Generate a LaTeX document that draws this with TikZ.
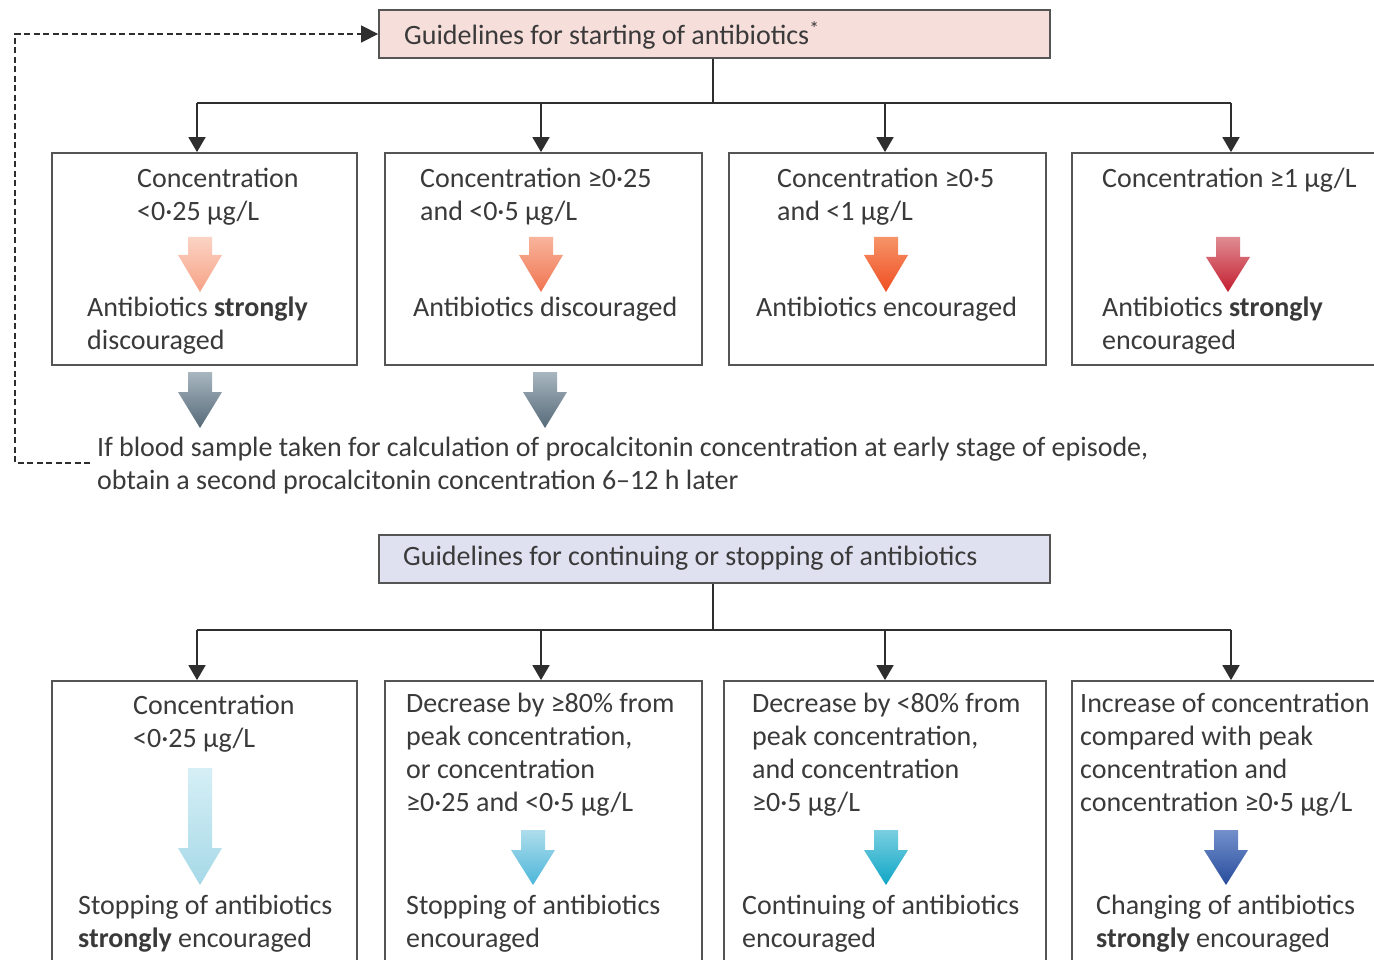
\documentclass[tikz,border=0pt]{standalone}
\usepackage{fontspec}
\setmainfont{Carlito}
\usetikzlibrary{arrows.meta}
\definecolor{txt}{HTML}{3A3A3A}
\definecolor{edge}{HTML}{555555}
\definecolor{conn}{HTML}{2E2E2E}
\definecolor{pinkfill}{HTML}{F6DEDA}
\definecolor{bluefill}{HTML}{DFE1F1}
\newcommand{\fs}{\fontsize{28}{33}\selectfont}
\newcommand{\fatarrow}[6]{%
  \definecolor{fatA}{HTML}{#5}\definecolor{fatB}{HTML}{#6}%
  \shade[top color=fatA,bottom color=fatB]
    (#1-12,#2) -- (#1+12,#2) -- (#1+12,#3) -- (#1+22,#3) -- (#1,#4)
    -- (#1-22,#3) -- (#1-12,#3) -- cycle;}
\tikzset{
  boxnode/.style={draw=edge, line width=1.8pt, fill=white, inner sep=0pt},
  hdr/.style={draw=edge, line width=1.8pt, inner sep=0pt},
  lbl/.style={anchor=north west, inner sep=0pt, align=left, text=txt, font=\fs},
  conline/.style={draw=conn, line width=1.8pt},
  conarrow/.style={conline, -{Triangle[width=17pt,length=15pt]}},
  dashline/.style={draw=conn, line width=1.3pt, dash pattern=on 6pt off 3.5pt}
}
\begin{document}
\begin{tikzpicture}[x=1pt,y=-1pt]
\useasboundingbox (0,0) rectangle (1374,960);
\clip (0,0) rectangle (1374,960);
\fill[white] (0,0) rectangle (1374,960);

% ---------- top part ----------
\node[hdr, fill=pinkfill, minimum width=671pt, minimum height=48pt] (h1) at (714.5,34) {};
\node[lbl] (h1t) at (404,21) {Guidelines for starting of antibiotics\textsuperscript{*}};

\node[boxnode, minimum width=305pt, minimum height=212pt] (t1) at (204.5,259) {};
\node[boxnode, minimum width=317pt, minimum height=212pt] (t2) at (543.5,259) {};
\node[boxnode, minimum width=317pt, minimum height=212pt] (t3) at (887.5,259) {};
\node[boxnode, minimum width=360pt, minimum height=212pt] (t4) at (1252,259) {};

\coordinate (ta) at (713,103);
\coordinate (b1) at (197,103);
\coordinate (b2) at (541,103);
\coordinate (b3) at (885,103);
\coordinate (b4) at (1231,103);
\draw[conline] (h1.south -| ta) -- (ta);
\draw[conline] (b1) -- (b4);
\draw[conarrow] (b1) -- (b1 |- t1.north);
\draw[conarrow] (b2) -- (b2 |- t2.north);
\draw[conarrow] (b3) -- (b3 |- t3.north);
\draw[conarrow] (b4) -- (b4 |- t4.north);

\node[lbl] (t1a) at (137,168) {Concentration\\<0·25 μg/L};
\node[lbl] (t1b) at (87,297) {Antibiotics \textbf{strongly}\\discouraged};
\node[lbl] (t2a) at (420,168) {Concentration ≥0·25\\and <0·5 μg/L};
\node[lbl] (t2b) at (413,297) {Antibiotics discouraged};
\node[lbl] (t3a) at (777,168) {Concentration ≥0·5\\and <1 μg/L};
\node[lbl] (t3b) at (756,297) {Antibiotics encouraged};
\node[lbl] (t4a) at (1102,168) {Concentration ≥1 μg/L};
\node[lbl] (t4b) at (1102,297) {Antibiotics \textbf{strongly}\\encouraged};

\fatarrow{200}{237}{255}{292}{FBD3C4}{F6A284}
\fatarrow{541}{237}{255}{292}{F8B49C}{F07450}
\fatarrow{886}{237}{255}{292}{F69468}{EF4E22}
\fatarrow{1228}{237}{257}{292}{DF8C92}{C41E30}

\fatarrow{200}{372}{392}{428}{A8B6C0}{566A78}
\fatarrow{545}{372}{392}{428}{A8B6C0}{566A78}

\node[lbl] (note) at (97,437) {If blood sample taken for calculation of procalcitonin concentration at early stage of episode,\\obtain a second procalcitonin concentration 6–12 h later};

\coordinate (d0) at (90,463);
\draw[dashline, -{Triangle[width=17pt,length=17pt]}] (d0) -- (15,463) |- (h1.west);

% ---------- bottom part ----------
\node[hdr, fill=bluefill, minimum width=671pt, minimum height=48pt] (h2) at (714.5,559) {};
\node[lbl] (h2t) at (403,546) {Guidelines for continuing or stopping of antibiotics};

\node[boxnode, minimum width=305pt, minimum height=330pt] (u1) at (204.5,846) {};
\node[boxnode, minimum width=317pt, minimum height=330pt] (u2) at (543.5,846) {};
\node[boxnode, minimum width=322pt, minimum height=330pt] (u3) at (885,846) {};
\node[boxnode, minimum width=360pt, minimum height=330pt] (u4) at (1252,846) {};

\coordinate (tb) at (713,630);
\coordinate (c1) at (197,630);
\coordinate (c2) at (541,630);
\coordinate (c3) at (885,630);
\coordinate (c4) at (1231,630);
\draw[conline] (h2.south -| tb) -- (tb);
\draw[conline] (c1) -- (c4);
\draw[conarrow] (c1) -- (c1 |- u1.north);
\draw[conarrow] (c2) -- (c2 |- u2.north);
\draw[conarrow] (c3) -- (c3 |- u3.north);
\draw[conarrow] (c4) -- (c4 |- u4.north);

\node[lbl] (u1a) at (133,695) {Concentration\\<0·25 μg/L};
\node[lbl] (u1b) at (78,895) {Stopping of antibiotics\\\textbf{strongly} encouraged};
\node[lbl] (u2a) at (406,693) {Decrease by ≥80\% from\\peak concentration,\\or concentration\\≥0·25 and <0·5 μg/L};
\node[lbl] (u2b) at (406,895) {Stopping of antibiotics\\encouraged};
\node[lbl] (u3a) at (752,693) {Decrease by <80\% from\\peak concentration,\\and concentration\\≥0·5 μg/L};
\node[lbl] (u3b) at (742,895) {Continuing of antibiotics\\encouraged};
\node[lbl] (u4a) at (1080,693) {Increase of concentration\\compared with peak\\concentration and\\concentration ≥0·5 μg/L};
\node[lbl] (u4b) at (1096,895) {Changing of antibiotics\\\textbf{strongly} encouraged};

\fatarrow{200}{768}{848}{885}{D6EFF6}{A6D9E7}
\fatarrow{533}{830}{850}{885}{AEDDEC}{4CB6DA}
\fatarrow{886}{830}{850}{885}{7ACFE0}{0EA6C6}
\fatarrow{1226}{830}{850}{885}{7390CC}{284C9C}
\end{tikzpicture}
\end{document}
